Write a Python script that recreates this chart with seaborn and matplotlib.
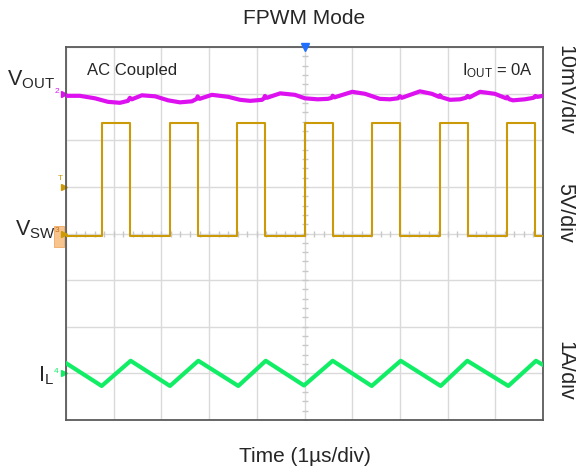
import numpy as np
import pandas as pd
import matplotlib
matplotlib.use("Agg")
import matplotlib.pyplot as plt
from matplotlib.patches import Rectangle
import seaborn as sns

# ==========================================
# DATOS LEÍDOS DE LA CAPTURA DEL OSCILOSCOPIO
# ==========================================
# VSW (5V/div): flancos en µs y niveles en V
sw_rise_us = [0.755, 2.17, 3.59, 5.00, 6.42, 7.84, 9.25]
sw_fall_us = [1.34, 2.76, 4.17, 5.59, 7.00, 8.42, 9.84]
sw_low_v = -0.25
sw_high_v = 11.8

# IL (1A/div): vértices de la rampa triangular
il_t_us = [0.0, 0.748, 1.356, 2.18, 2.774, 3.612, 4.187, 4.99, 5.591,
           6.409, 7.017, 7.855, 8.413, 9.273, 9.853, 10.0]
il_a = [0.22, -0.27, 0.27, -0.27, 0.27, -0.27, 0.27, -0.26, 0.27,
        -0.27, 0.27, -0.27, 0.27, -0.27, 0.27, 0.18]

# VOUT acoplada en AC (10mV/div): rizado en mV
vout_t_us = [0, 0.29, 0.61, 0.88, 1.13, 1.30, 1.34, 1.38, 1.59, 1.87,
             2.14, 2.39, 2.64, 2.74, 2.76, 2.80, 3.06, 3.40, 3.65, 3.86,
             4.11, 4.15, 4.17, 4.21, 4.49, 4.80, 5.01, 5.28, 5.49, 5.57,
             5.59, 5.63, 6.00, 6.27, 6.58, 6.79, 6.96, 7.00, 7.04, 7.42,
             7.67, 7.82, 7.84, 7.88, 8.05, 8.26, 8.38, 8.42, 8.46, 8.68,
             8.99, 9.23, 9.25, 9.29, 9.37, 9.62, 9.80, 9.84, 9.88, 10.0]
vout_mv = [-0.47, -0.47, -1.01, -1.76, -1.97, -1.55, -0.9, -1.22, -0.36, -0.58,
           -1.44, -1.87, -1.65, -1.12, -0.6, -1.12, -0.26, -0.69, -1.33, -1.55,
           -1.33, -1.0, -0.5, -0.9, 0.06, -0.26, -1.01, -1.22, -1.12, -0.9,
           -0.45, -0.8, 0.39, -0.04, -1.12, -1.22, -1.0, -0.55, -0.9, 0.49,
           -0.04, -0.69, -0.35, -0.8, -1.33, -1.22, -0.9, -0.5, -0.8, 0.39,
           -0.04, -1.01, -0.7, -1.2, -1.44, -1.22, -0.9, -0.5, -0.7, -0.47]

# escala (unidades/div) y posición del marcador de tierra de cada canal (div)
ESC_VOUT, POS_VOUT = 10.0, 7.0
ESC_SW, POS_SW = 5.0, 4.0
ESC_IL, POS_IL = 1.0, 1.0

COL_VOUT = "#dd11f0"
COL_SW = "#cc9a06"
COL_IL = "#11ee66"

sns.set_theme(style="white")
plt.rcParams["font.family"] = ["Liberation Sans", "DejaVu Sans"]
plt.rcParams["mathtext.fontset"] = "custom"
plt.rcParams["mathtext.rm"] = "Liberation Sans"

# construir la forma de onda cuadrada a partir de los flancos
sw_t = [0.0]
sw_v = [sw_low_v]
for r, f in zip(sw_rise_us, sw_fall_us):
    sw_t += [r, r, f, f]
    sw_v += [sw_low_v, sw_high_v, sw_high_v, sw_low_v]
sw_t.append(10.0)
sw_v.append(sw_low_v)

df_sw = pd.DataFrame({"t": sw_t, "div": POS_SW + np.array(sw_v) / ESC_SW})
df_il = pd.DataFrame({"t": il_t_us, "div": POS_IL + np.array(il_a) / ESC_IL})
df_vout = pd.DataFrame({"t": vout_t_us, "div": POS_VOUT + np.array(vout_mv) / ESC_VOUT})

fig = plt.figure(figsize=(5.76, 4.72), dpi=100)
ax = fig.add_axes([66 / 576, 1 - 420 / 472, 477 / 576, 373 / 472])

sns.lineplot(data=df_vout, x="t", y="div", ax=ax, color=COL_VOUT, lw=3.0,
             estimator=None, sort=False, zorder=5)
sns.lineplot(data=df_sw, x="t", y="div", ax=ax, color=COL_SW, lw=1.5,
             estimator=None, sort=False, zorder=4)
sns.lineplot(data=df_il, x="t", y="div", ax=ax, color=COL_IL, lw=3.0,
             estimator=None, sort=False, zorder=5)

ax.set_xlim(0, 10)
ax.set_ylim(0, 8)
ax.set_xticks(range(11))
ax.set_yticks(range(9))
ax.set_xticklabels([])
ax.set_yticklabels([])
ax.tick_params(length=0)
ax.set_xlabel("")
ax.set_ylabel("")
ax.grid(True, color="#dadada", lw=1.0)
for s in ax.spines.values():
    s.set_color("#5a5a5a")
    s.set_linewidth(1.3)

# marcas menores sobre los ejes centrales
ax.plot(np.full(41, 5.0), np.arange(0, 8.01, 0.2), ls="none", marker="_",
        ms=5, color="#c8c8c8", zorder=2)
ax.plot(np.arange(0, 10.01, 0.2), np.full(51, 4.0), ls="none", marker="|",
        ms=5, color="#c8c8c8", zorder=2)

# marcador de disparo (azul) y marcadores de canal
ax.plot([5.0], [8.0], marker="v", ms=6, color="#1e6fff", clip_on=False, zorder=6)
ax.plot([-0.05], [POS_VOUT], marker=">", ms=4, color=COL_VOUT, clip_on=False)
ax.text(-0.2, POS_VOUT + 0.05, "2", fontsize=6, color=COL_VOUT, ha="center", va="center")
ax.plot([-0.05], [5.0], marker=">", ms=4, color=COL_SW, clip_on=False)
ax.text(-0.12, 5.18, "T", fontsize=6, color=COL_SW, ha="center", va="center")
ax.add_patch(Rectangle((-0.25, 3.71), 0.21, 0.45, facecolor="#f8c48e",
                       edgecolor="#f0a860", lw=0.6, clip_on=False, zorder=6))
ax.text(-0.18, 4.07, "3", fontsize=6, color="#c07020", ha="center", va="center", zorder=7)
ax.plot([-0.05], [POS_SW], marker=">", ms=4, color=COL_SW, clip_on=False, zorder=7)
ax.plot([-0.05], [POS_IL], marker=">", ms=4, color=COL_IL, clip_on=False)
ax.text(-0.2, POS_IL + 0.05, "4", fontsize=6, color=COL_IL, ha="center", va="center")

# textos dentro de la pantalla
ax.text(0.044, 0.936, "AC Coupled", transform=ax.transAxes, fontsize=12,
        ha="left", va="center")
ax.text(0.979, 0.936, r"$\mathregular{I_{OUT}}$ = 0A", transform=ax.transAxes,
        fontsize=12, ha="right", va="center")

# títulos y etiquetas de canal
cx = (66 + 477 / 2) / 576
fig.text(cx, 1 - 18 / 472, "FPWM Mode", fontsize=15, ha="center", va="center")
fig.text(cx, 1 - 457 / 472, "Time (1µs/div)", fontsize=15, ha="center", va="center")

fig.text(7 / 576, 1 - 80 / 472, r"$\mathregular{V_{OUT}}$", fontsize=15.5, ha="left", va="center")
fig.text(15 / 576, 1 - 230 / 472, r"$\mathregular{V_{SW}}$", fontsize=15.5, ha="left", va="center")
fig.text(38 / 576, 1 - 376 / 472, r"$\mathregular{I_{L}}$", fontsize=15.5, ha="left", va="center")

fig.text(565 / 576, 1 - 90 / 472, "10mV/div", fontsize=15.5, rotation=270, ha="center", va="center")
fig.text(565 / 576, 1 - 213 / 472, "5V/div", fontsize=15.5, rotation=270, ha="center", va="center")
fig.text(565 / 576, 1 - 371 / 472, "1A/div", fontsize=15.5, rotation=270, ha="center", va="center")

fig.savefig("out.png", dpi=100)
